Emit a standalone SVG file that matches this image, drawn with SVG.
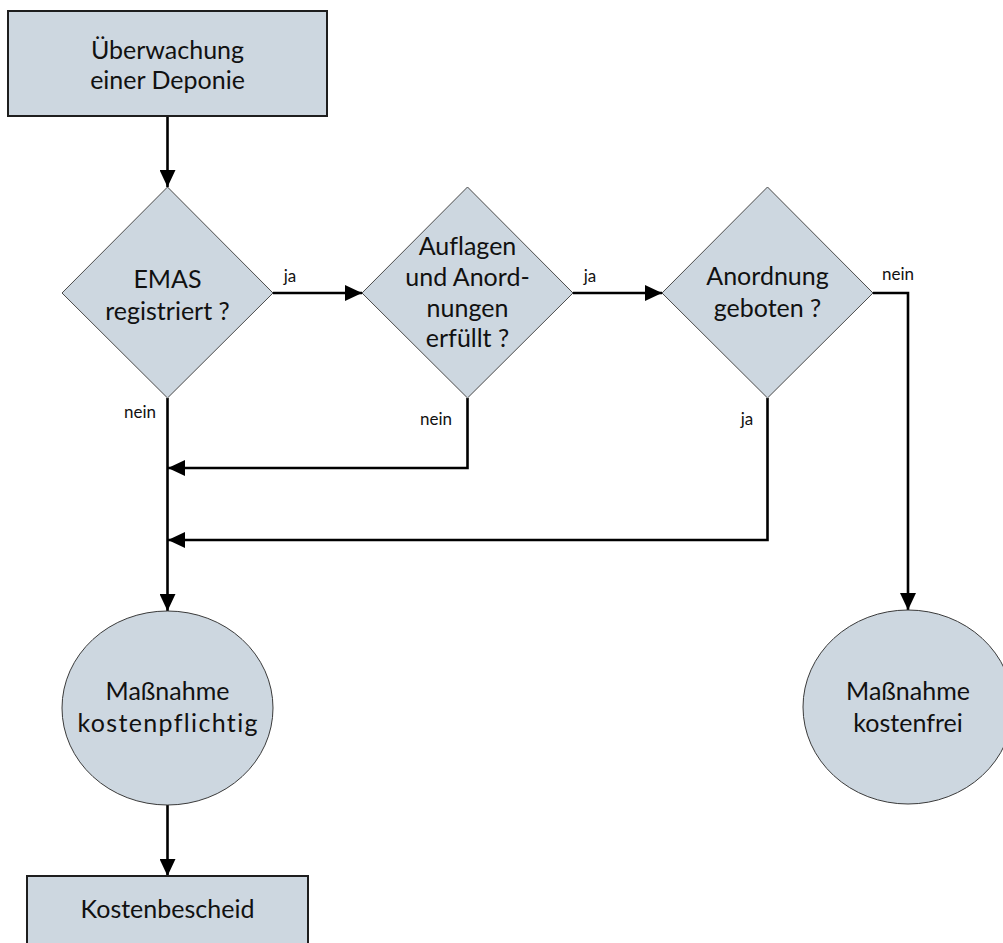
<svg xmlns="http://www.w3.org/2000/svg" width="1003" height="943" viewBox="0 0 1003 943">
<style>
.box{fill:#cdd7e0;stroke:#1e1e1e;stroke-width:2}
.dia{fill:#cdd7e0;stroke:#4a4a4a;stroke-width:1}
.ell{fill:#cdd7e0;stroke:#3a3a3a;stroke-width:1}
.t{font-family:Lato,"Open Sans","Liberation Sans",sans-serif;font-size:25px;fill:#111;text-anchor:middle;font-variant-ligatures:none}
.l{font-family:Lato,"Open Sans","Liberation Sans",sans-serif;font-size:17px;fill:#111;text-anchor:middle}
.c{fill:none;stroke:#000;stroke-width:2.6}
</style>
<defs>
<marker id="ah" markerUnits="userSpaceOnUse" markerWidth="17" markerHeight="16" viewBox="0 0 17 16" refX="17" refY="8" orient="auto">
<path d="M0,0 L17,8 L0,16 z" fill="#000"/>
</marker>
</defs>
<rect width="1003" height="943" fill="#fff"/>
<g id="connectors">
<path class="c" d="M167.5,116 V187" marker-end="url(#ah)"/>
<path class="c" d="M273,293 H362" marker-end="url(#ah)"/>
<path class="c" d="M573,293 H662" marker-end="url(#ah)"/>
<path class="c" d="M167.5,398 V611" marker-end="url(#ah)"/>
<path class="c" d="M467.5,398 V468 H168" marker-end="url(#ah)"/>
<path class="c" d="M767.5,398 V540 H168" marker-end="url(#ah)"/>
<path class="c" d="M873,293 H908 V610" marker-end="url(#ah)"/>
<path class="c" d="M167.5,805 V876" marker-end="url(#ah)"/>
<text class="l" x="290" y="282">ja</text>
<text class="l" x="590" y="282">ja</text>
<text class="l" x="898" y="280">nein</text>
<text class="l" x="140" y="418">nein</text>
<text class="l" x="436" y="425">nein</text>
<text class="l" x="747" y="425">ja</text>
</g>
<g id="n-start">
<rect class="box" x="8" y="11" width="319" height="105"/>
<text class="t" x="167.5" y="59">Überwachung</text>
<text class="t" x="167.5" y="89">einer Deponie</text>
</g>
<g id="n-emas">
<polygon class="dia" points="167.5,187 273,293 167.5,398 62,293"/>
<text class="t" x="167.5" y="288">EMAS</text>
<text class="t" x="167.5" y="320">registriert ?</text>
</g>
<g id="n-auflagen">
<polygon class="dia" points="467.5,187 573,293 467.5,398 362,293"/>
<text class="t" x="467.5" y="255">Auflagen</text>
<text class="t" x="467.5" y="286">und Anord-</text>
<text class="t" x="467.5" y="317">nungen</text>
<text class="t" x="467.5" y="347">erfüllt ?</text>
</g>
<g id="n-anordnung">
<polygon class="dia" points="767.5,187 873,293 767.5,398 662,293"/>
<text class="t" x="767.5" y="285">Anordnung</text>
<text class="t" x="767.5" y="317">geboten ?</text>
</g>
<g id="n-kostenpflichtig">
<ellipse class="ell" cx="167.5" cy="708" rx="105.5" ry="97"/>
<text class="t" x="167.5" y="700">Maßnahme</text>
<text class="t" x="167.5" y="732" textLength="180" lengthAdjust="spacing">kostenpflichtig</text>
</g>
<g id="n-kostenfrei">
<ellipse class="ell" cx="908" cy="707" rx="105" ry="97"/>
<text class="t" x="908" y="700">Maßnahme</text>
<text class="t" x="908" y="732">kostenfrei</text>
</g>
<g id="n-bescheid">
<rect class="box" x="27" y="876" width="281" height="80"/>
<text class="t" x="167.5" y="918">Kostenbescheid</text>
</g>
</svg>
